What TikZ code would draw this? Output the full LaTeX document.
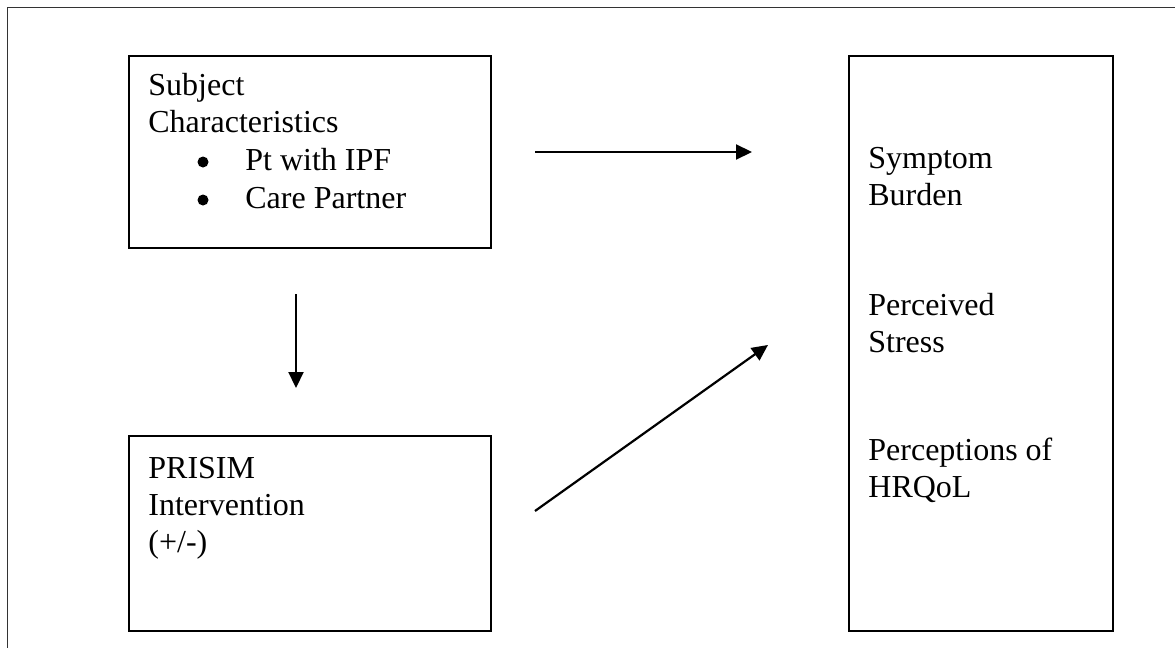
\documentclass[tikz,border=0pt]{standalone}
\usepackage{fontspec}
\setmainfont{Liberation Serif}
\usetikzlibrary{arrows.meta,positioning}

\begin{document}
\begin{tikzpicture}[x=0.5pt,y=-0.5pt,>={Triangle[length=8pt,width=7.5pt]},
box/.style={draw,line width=1.1pt,inner sep=0pt,anchor=north west},
txt/.style={anchor=base west,inner sep=0pt,font=\fontsize{16}{18.5}\selectfont},
dot/.style={circle,fill,inner sep=0pt,minimum size=5.5pt},
arr/.style={->,line width=1.1pt}]
\useasboundingbox (0,0) rectangle (1175,648);

% page frame
\draw[line width=0.5pt,black!80] (7.5,648) |- (1175,7.5);

% boxes
\node (subject_box) [box,minimum width=181pt,minimum height=96pt] at (128,55) {};
\node (prisim_box) [box,minimum width=181pt,minimum height=97.5pt] at (128,435) {};
\node (outcome_box) [box,minimum width=132pt,minimum height=287.5pt] at (848,55) {};

% subject characteristics
\node (subj_a) [txt] at (148,95) {Subject};
\node (subj_b) [txt] at (148,132) {Characteristics};
\node (dot_a) [dot] at (203,162) {};
\node (subj_c) [txt] at (245,170) {Pt with IPF};
\node (dot_b) [dot] at (203,200) {};
\node (subj_d) [txt] at (245,208) {Care Partner};

% intervention
\node (prisim_a) [txt] at (148,478) {PRISIM};
\node (prisim_b) [txt] at (148,515) {Intervention};
\node (prisim_c) [txt] at (148,552) {(+/-)};

% outcomes
\node (out_a) [txt] at (868,168) {Symptom};
\node (out_b) [txt] at (868,205) {Burden};
\node (out_c) [txt] at (868,315) {Perceived};
\node (out_d) [txt] at (868,352) {Stress};
\node (out_e) [txt] at (868,460) {Perceptions of};
\node (out_f) [txt] at (868,497) {HRQoL};

% arrows
\coordinate (h_start) at (535,152);
\coordinate (h_end) at (752,152);
\coordinate (v_start) at (296,294);
\coordinate (v_end) at (296,388);
\coordinate (d_start) at (535,511);
\coordinate (d_end) at (768,345);
\draw[arr] (h_start)--(h_end);
\draw[arr] (v_start)--(v_end);
\draw[arr] (d_start)--(d_end);

\end{tikzpicture}
\end{document}
